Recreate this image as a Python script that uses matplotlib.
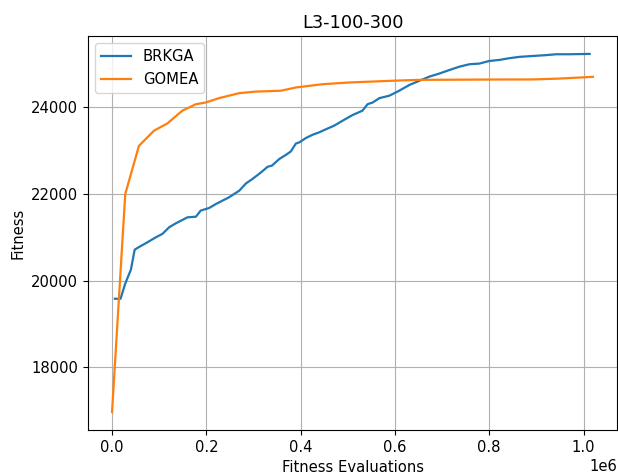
import matplotlib
matplotlib.use('Agg')
import matplotlib.pyplot as plt

# values
brkga_evals = [0.006e6, 0.018e6, 0.028e6, 0.040e6, 0.048e6, 0.057e6, 0.075e6,
               0.093e6, 0.107e6, 0.121e6, 0.135e6, 0.160e6, 0.178e6, 0.188e6,
               0.206e6, 0.220e6, 0.248e6, 0.270e6, 0.284e6, 0.298e6, 0.316e6,
               0.330e6, 0.339e6, 0.355e6, 0.369e6, 0.379e6, 0.390e6, 0.397e6,
               0.411e6, 0.425e6, 0.439e6, 0.454e6, 0.471e6, 0.489e6, 0.510e6,
               0.531e6, 0.542e6, 0.553e6, 0.567e6, 0.588e6, 0.609e6, 0.631e6,
               0.652e6, 0.673e6, 0.694e6, 0.715e6, 0.737e6, 0.758e6, 0.779e6,
               0.800e6, 0.822e6, 0.843e6, 0.864e6, 0.892e6, 0.921e6, 0.942e6,
               0.970e6, 1.013e6]
brkga_fitness = [19580, 19580, 19930, 20250, 20710, 20770, 20880,
                 20995, 21075, 21225, 21315, 21455, 21470, 21610,
                 21670, 21760, 21915, 22070, 22235, 22340, 22490,
                 22620, 22645, 22800, 22895, 22970, 23155, 23180,
                 23280, 23355, 23410, 23485, 23565, 23680, 23810,
                 23910, 24060, 24100, 24200, 24255, 24370, 24505,
                 24600, 24695, 24765, 24845, 24925, 24980, 24995,
                 25055, 25080, 25120, 25150, 25170, 25190, 25210,
                 25210, 25218]

gomea_evals = [0.0, 0.028e6, 0.057e6, 0.089e6, 0.117e6, 0.149e6, 0.178e6,
               0.199e6, 0.227e6, 0.270e6, 0.305e6, 0.358e6, 0.390e6,
               0.446e6, 0.503e6, 0.595e6, 0.648e6, 0.800e6, 0.892e6,
               0.949e6, 1.020e6]
gomea_fitness = [16970, 21990, 23100, 23450, 23615, 23910, 24060,
                 24100, 24200, 24315, 24350, 24370, 24445,
                 24520, 24560, 24600, 24620, 24628, 24630,
                 24650, 24690]

scale = 1.067
plt.rcParams['font.size'] = 10 * scale
plt.rcParams['lines.linewidth'] = 1.5 * scale

fig = plt.figure(figsize=(618 / 100, 473 / 100), dpi=100)
ax = fig.add_axes([88 / 618, 1 - 430 / 473, 529 / 618, 394 / 473])

ax.plot(brkga_evals, brkga_fitness, label='BRKGA')
ax.plot(gomea_evals, gomea_fitness, label='GOMEA')

ax.set_title('L3-100-300', fontsize=12 * scale)
ax.set_xlabel('Fitness Evaluations')
ax.set_ylabel('Fitness')
ax.legend(loc='upper left')
ax.grid(True)

fig.savefig('out.png', dpi=100)
